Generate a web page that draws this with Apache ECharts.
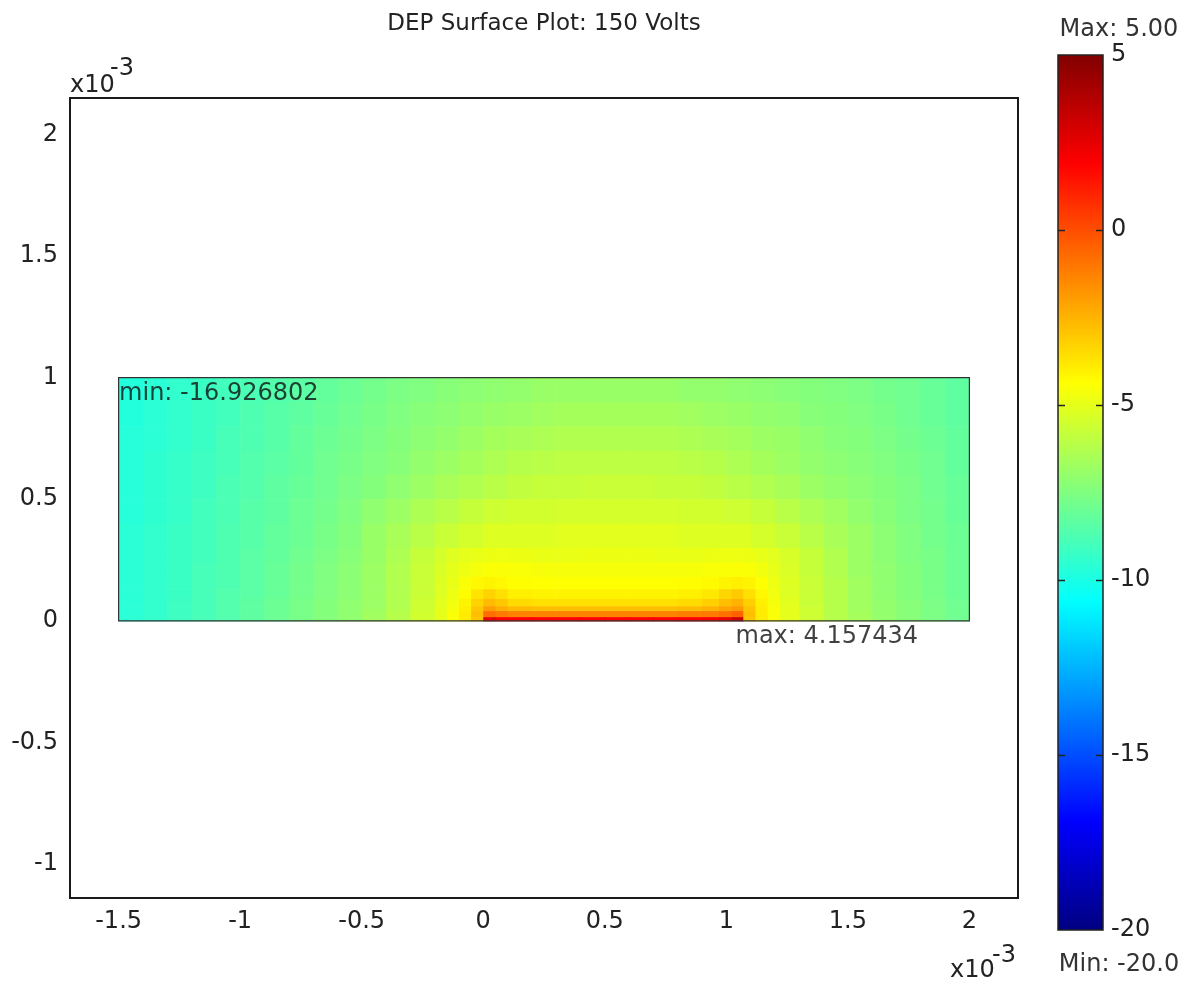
<!DOCTYPE html>
<html><head><meta charset="utf-8">
<script src="https://cdn.jsdelivr.net/npm/echarts@6/dist/echarts.min.js"></script>
<style>html,body{margin:0;padding:0;background:#fff}#c{width:1188px;height:986px}</style>
</head><body><div id="c"></div>
<script>
// ---- data (coordinates in units of 1e-3) ----
const xTicks = [-1.5, -1, -0.5, 0, 0.5, 1, 1.5, 2];
const yTicks = [-1, -0.5, 0, 0.5, 1, 1.5, 2];

// upper band: y from 1.0 down to 0.3, uniform 0.1 columns
const xEdgesTop = [-1.5,-1.4,-1.3,-1.2,-1.1,-1.0,-0.9,-0.8,-0.7,-0.6,-0.5,-0.4,-0.3,-0.2,-0.1,0.0,0.1,0.2,0.3,0.4,0.5,0.6,0.7,0.8,0.9,1.0,1.1,1.2,1.3,1.4,1.5,1.6,1.7,1.8,1.9,2.0];
const yEdgesTop = [1.0,0.9,0.8,0.7,0.6,0.5,0.4,0.3];
const top0 = [-9.8,-9.6,-9.4,-9.2,-9.0,-8.8,-8.6,-8.4,-8.2,-8.0,-7.8,-7.6,-7.5,-7.3,-7.2,-7.1,-7.0,-6.9,-6.9,-6.9,-6.9,-6.9,-6.9,-7.0,-7.0,-7.1,-7.2,-7.3,-7.4,-7.5,-7.6,-7.8,-7.9,-8.1,-8.3];
const top1 = [-9.8,-9.6,-9.4,-9.2,-9.0,-8.7,-8.5,-8.3,-8.1,-7.9,-7.7,-7.5,-7.3,-7.2,-7.0,-6.9,-6.8,-6.7,-6.6,-6.6,-6.6,-6.6,-6.6,-6.7,-6.8,-6.9,-7.0,-7.1,-7.3,-7.4,-7.5,-7.7,-7.9,-8.1,-8.3];
const top2 = [-9.7,-9.6,-9.4,-9.2,-8.9,-8.7,-8.5,-8.2,-8.0,-7.8,-7.6,-7.4,-7.2,-7.0,-6.8,-6.6,-6.5,-6.4,-6.3,-6.3,-6.3,-6.3,-6.3,-6.4,-6.5,-6.6,-6.8,-6.9,-7.1,-7.3,-7.4,-7.6,-7.8,-8.0,-8.2];
const top3 = [-9.7,-9.5,-9.3,-9.1,-8.9,-8.6,-8.4,-8.2,-7.9,-7.7,-7.5,-7.3,-7.0,-6.8,-6.6,-6.4,-6.2,-6.1,-6.0,-6.0,-6.0,-6.0,-6.0,-6.1,-6.2,-6.4,-6.6,-6.8,-7.0,-7.2,-7.3,-7.5,-7.7,-7.9,-8.2];
const top4 = [-9.7,-9.5,-9.3,-9.1,-8.8,-8.6,-8.3,-8.1,-7.9,-7.6,-7.4,-7.1,-6.8,-6.5,-6.3,-6.1,-5.9,-5.8,-5.8,-5.7,-5.7,-5.7,-5.8,-5.8,-5.9,-6.1,-6.3,-6.5,-6.8,-7.0,-7.2,-7.4,-7.6,-7.9,-8.1];
const top5 = [-9.7,-9.5,-9.3,-9.0,-8.8,-8.5,-8.3,-8.0,-7.8,-7.5,-7.1,-6.8,-6.4,-6.1,-5.8,-5.6,-5.5,-5.5,-5.4,-5.4,-5.4,-5.4,-5.4,-5.5,-5.5,-5.6,-5.8,-6.1,-6.4,-6.7,-7.0,-7.3,-7.6,-7.8,-8.1];
const top6 = [-9.6,-9.4,-9.2,-9.0,-8.7,-8.5,-8.2,-8.0,-7.7,-7.4,-6.9,-6.5,-6.1,-5.7,-5.4,-5.2,-5.2,-5.2,-5.1,-5.1,-5.1,-5.1,-5.1,-5.2,-5.2,-5.2,-5.4,-5.7,-6.1,-6.5,-6.8,-7.2,-7.5,-7.8,-8.0];
const topRows = [top0, top1, top2, top3, top4, top5, top6];

// lower band: y from 0.3 down to 0, finer columns near the electrode (x 0 .. 1.07)
const xEdgesBot = [-1.5,-1.4,-1.3,-1.2,-1.1,-1.0,-0.9,-0.8,-0.7,-0.6,-0.5,-0.4,-0.3,-0.2,-0.15,-0.1,-0.05,0,0.05,0.1,0.2,0.3,0.4,0.5,0.6,0.7,0.8,0.9,0.97,1.02,1.07,1.12,1.17,1.22,1.3,1.4,1.5,1.6,1.7,1.8,1.9,2.0];
const yEdgesBot = [0.3,0.24,0.18,0.13,0.09,0.06,0.04,0.015,0];
const bot0 = [-9.6,-9.4,-9.2,-9.0,-8.7,-8.4,-8.2,-7.9,-7.6,-7.3,-6.9, -6.4,-5.8,-5.4,-5.15,-5.0,-4.9,-4.85,-4.8,-4.85,-4.9,-4.9,-4.85,-4.85,-4.85,-4.9,-4.9,-4.85,-4.8,-4.8,-4.85,-4.95,-5.1,-5.35,-5.8,-6.3, -6.8,-7.2,-7.5,-7.7,-8.0];
const bot1 = [-9.6,-9.4,-9.2,-8.9,-8.7,-8.4,-8.1,-7.8,-7.5,-7.2,-6.8, -6.3,-5.7,-5.3,-5.0,-4.8,-4.6,-4.5,-4.5,-4.55,-4.6,-4.6,-4.6,-4.6,-4.6,-4.6,-4.6,-4.55,-4.5,-4.45,-4.5,-4.7,-4.95,-5.3,-5.8,-6.3, -6.8,-7.1,-7.4,-7.7,-8.0];
const bot2 = [-9.6,-9.4,-9.2,-8.9,-8.7,-8.4,-8.1,-7.8,-7.5,-7.2,-6.8, -6.3,-5.7,-5.2,-4.9,-4.5,-4.2,-4.1,-4.2,-4.35,-4.4,-4.4,-4.4,-4.4,-4.4,-4.4,-4.35,-4.25,-4.1,-4.0,-4.1,-4.4,-4.8,-5.2,-5.7,-6.2, -6.7,-7.1,-7.4,-7.7,-8.0];
const bot3 = [-9.6,-9.4,-9.2,-8.9,-8.6,-8.4,-8.1,-7.8,-7.5,-7.2,-6.8, -6.3,-5.7,-5.2,-4.8,-4.3,-3.7,-3.3,-3.6,-4.0,-4.1,-4.1,-4.1,-4.1,-4.1,-4.1,-4.0,-3.8,-3.4,-3.1,-3.6,-4.2,-4.7,-5.2,-5.7,-6.2, -6.7,-7.1,-7.4,-7.7,-8.0];
const bot4 = [-9.6,-9.4,-9.1,-8.9,-8.6,-8.3,-8.0,-7.7,-7.4,-7.1,-6.8, -6.3,-5.6,-5.1,-4.7,-4.1,-3.3,-2.7,-3.0,-3.5,-3.6,-3.6,-3.6,-3.6,-3.6,-3.6,-3.5,-3.2,-2.8,-2.5,-3.2,-4.0,-4.6,-5.1,-5.7,-6.2, -6.7,-7.0,-7.3,-7.6,-7.9];
const bot5 = [-9.6,-9.4,-9.1,-8.9,-8.6,-8.3,-8.0,-7.7,-7.4,-7.1,-6.8, -6.3,-5.6,-5.0,-4.6,-4.0,-3.0,-2.0,-2.4,-2.7,-2.8,-2.8,-2.8,-2.8,-2.8,-2.8,-2.7,-2.5,-2.1,-1.9,-2.9,-3.9,-4.5,-5.0,-5.6,-6.2, -6.7,-7.0,-7.3,-7.6,-7.9];
const bot6 = [-9.6,-9.4,-9.1,-8.9,-8.6,-8.3,-8.0,-7.7,-7.4,-7.1,-6.7, -6.2,-5.5,-5.0,-4.5,-3.9,-2.8,-0.8,-1.1,-1.3,-1.3,-1.3,-1.3,-1.3,-1.3,-1.3,-1.2,-1.1,-0.9,-0.5,-2.8,-3.9,-4.5,-5.0,-5.6,-6.2, -6.6,-7.0,-7.3,-7.6,-7.9];
const bot7 = [-9.6,-9.4,-9.1,-8.9,-8.6,-8.3,-8.0,-7.7,-7.4,-7.1,-6.7, -6.2,-5.5,-5.0,-4.5,-3.9,-2.9,2.5,2.0,2.0,2.0,2.0,2.0,2.0,2.0,2.0,2.0,2.1,2.4,3.2,-2.9,-3.9,-4.5,-5.0,-5.6,-6.2, -6.6,-7.0,-7.3,-7.6,-7.9];
const botRows = [bot0, bot1, bot2, bot3, bot4, bot5, bot6, bot7];

const domainX = [-1.5, 2];
const domainY = [0, 1];
const colorRange = [-20, 5];
const cbTicksInterval = 5;
const cbInnerTicks = [-15, -10, -5, 0];
const minMark = [-1.5, 1, -16.926802];
const maxMark = [1.04, 0, 4.157434];
const titleText = 'DEP Surface Plot: 150 Volts';

// ---- build ----
const jet = ['#000080','#0000ff','#0080ff','#00ffff','#80ff80','#ffff00','#ff8000','#ff0000','#800000'];
const FONT = 'DejaVu Sans';
const cells = [];
function addBand(xE, yE, rs) {
  rs.forEach((r, j) => r.forEach((v, i) => cells.push([xE[i], xE[i + 1], yE[j + 1], yE[j], v])));
}
addBand(xEdgesTop, yEdgesTop, topRows);
addBand(xEdgesBot, yEdgesBot, botRows);

const chart = echarts.init(document.getElementById('c'), null, {renderer: 'canvas'});
const txt = '#222';
function t(text, x, y, size, align, color) {
  return {type: 'text', x: x, y: y, z: 20, style: {text: text, fontSize: size, fontFamily: FONT, fill: color || '#222',
    align: align, verticalAlign: 'middle', textAlign: align, textVerticalAlign: 'middle'}};
}
chart.setOption({
  animation: false,
  backgroundColor: '#fff',
  grid: [
    {left: 70, top: 98, width: 948, height: 800, show: true, borderColor: '#1a1a1a', borderWidth: 2, backgroundColor: 'transparent'},
    {left: 1058, top: 55, width: 45, height: 875}
  ],
  xAxis: [
    {type: 'value', gridIndex: 0, min: -1.7, max: 2.2, axisLine: {show: false}, axisTick: {show: false}, splitLine: {show: false},
     axisLabel: {customValues: xTicks, fontSize: 24, fontFamily: FONT, color: txt, margin: 12}},
    {type: 'value', gridIndex: 1, min: 0, max: 1, show: false}
  ],
  yAxis: [
    {type: 'value', gridIndex: 0, min: -1.14, max: 2.15, axisLine: {show: false}, axisTick: {show: false}, splitLine: {show: false},
     axisLabel: {customValues: yTicks, fontSize: 24, fontFamily: FONT, color: txt, margin: 12}},
    {type: 'value', gridIndex: 1, min: colorRange[0], max: colorRange[1], interval: cbTicksInterval, position: 'right',
     axisLine: {show: false}, axisTick: {show: false},
     splitLine: {show: false}, axisLabel: {fontSize: 24, fontFamily: FONT, color: txt, margin: 8}}
  ],
  visualMap: {show: false, type: 'continuous', min: colorRange[0], max: colorRange[1], dimension: 4, seriesIndex: 0, inRange: {color: jet}},
  series: [
    {
      type: 'custom', xAxisIndex: 0, yAxisIndex: 0, data: cells, encode: {x: [0, 1], y: [2, 3]},
      renderItem: function (params, api) {
        const p0 = api.coord([api.value(0), api.value(3)]);
        const p1 = api.coord([api.value(1), api.value(2)]);
        return {type: 'rect', shape: {x: p0[0], y: p0[1], width: p1[0] - p0[0] + 0.6, height: p1[1] - p0[1] + 0.6},
                style: {fill: api.visual('color')}};
      }
    },
    {
      type: 'custom', xAxisIndex: 0, yAxisIndex: 0, data: [[domainX[0], domainX[1], domainY[0], domainY[1]]], z: 5,
      renderItem: function (params, api) {
        const p0 = api.coord([api.value(0), api.value(3)]);
        const p1 = api.coord([api.value(1), api.value(2)]);
        return {type: 'rect', shape: {x: p0[0], y: p0[1], width: p1[0] - p0[0], height: p1[1] - p0[1]},
                style: {fill: null, stroke: '#333', lineWidth: 1.2}};
      }
    },
    {
      type: 'custom', xAxisIndex: 1, yAxisIndex: 1, data: [[0, 1, colorRange[0], colorRange[1]]],
      renderItem: function (params, api) {
        const p0 = api.coord([api.value(0), api.value(3)]);
        const p1 = api.coord([api.value(1), api.value(2)]);
        const stops = jet.map((c, i) => ({offset: i / (jet.length - 1), color: c}));
        const children = [{type: 'rect', shape: {x: p0[0], y: p0[1], width: p1[0] - p0[0], height: p1[1] - p0[1]},
                style: {fill: {type: 'linear', x: 0, y: 1, x2: 0, y2: 0, colorStops: stops}, stroke: '#222', lineWidth: 1.5}}];
        cbInnerTicks.forEach(v => {
          const y = Math.round(api.coord([0, v])[1]) + 0.5;
          children.push({type: 'line', shape: {x1: p0[0], y1: y, x2: p0[0] + 7, y2: y}, style: {stroke: '#222', lineWidth: 1.5}});
          children.push({type: 'line', shape: {x1: p1[0] - 7, y1: y, x2: p1[0], y2: y}, style: {stroke: '#222', lineWidth: 1.5}});
        });
        return {type: 'group', children: children};
      }
    },
    {
      type: 'scatter', xAxisIndex: 0, yAxisIndex: 0, symbolSize: 1, z: 6,
      itemStyle: {color: 'transparent'},
      data: [
        {value: minMark, label: {formatter: p => 'min: ' + p.value[2].toFixed(6), position: [1, 5]}},
        {value: maxMark, label: {formatter: p => 'max: ' + p.value[2].toFixed(6), position: [0, 4]}}
      ],
      label: {show: true, fontSize: 24, fontFamily: FONT, color: '#111', align: 'left', verticalAlign: 'top'}
    }
  ],
  graphic: [
    t(titleText, 544, 24, 23, 'center'),
    t('x10', 70, 86, 24, 'left'),
    t('-3', 110, 69, 24, 'left'),
    t('x10', 950, 971, 24, 'left'),
    t('-3', 992, 956, 24, 'left'),
    t('Max: ' + colorRange[1].toFixed(2), 1119, 30, 24, 'center', '#333'),
    t('Min: ' + colorRange[0].toFixed(1), 1119, 965, 24, 'center', '#333')
  ]
});
</script></body></html>
